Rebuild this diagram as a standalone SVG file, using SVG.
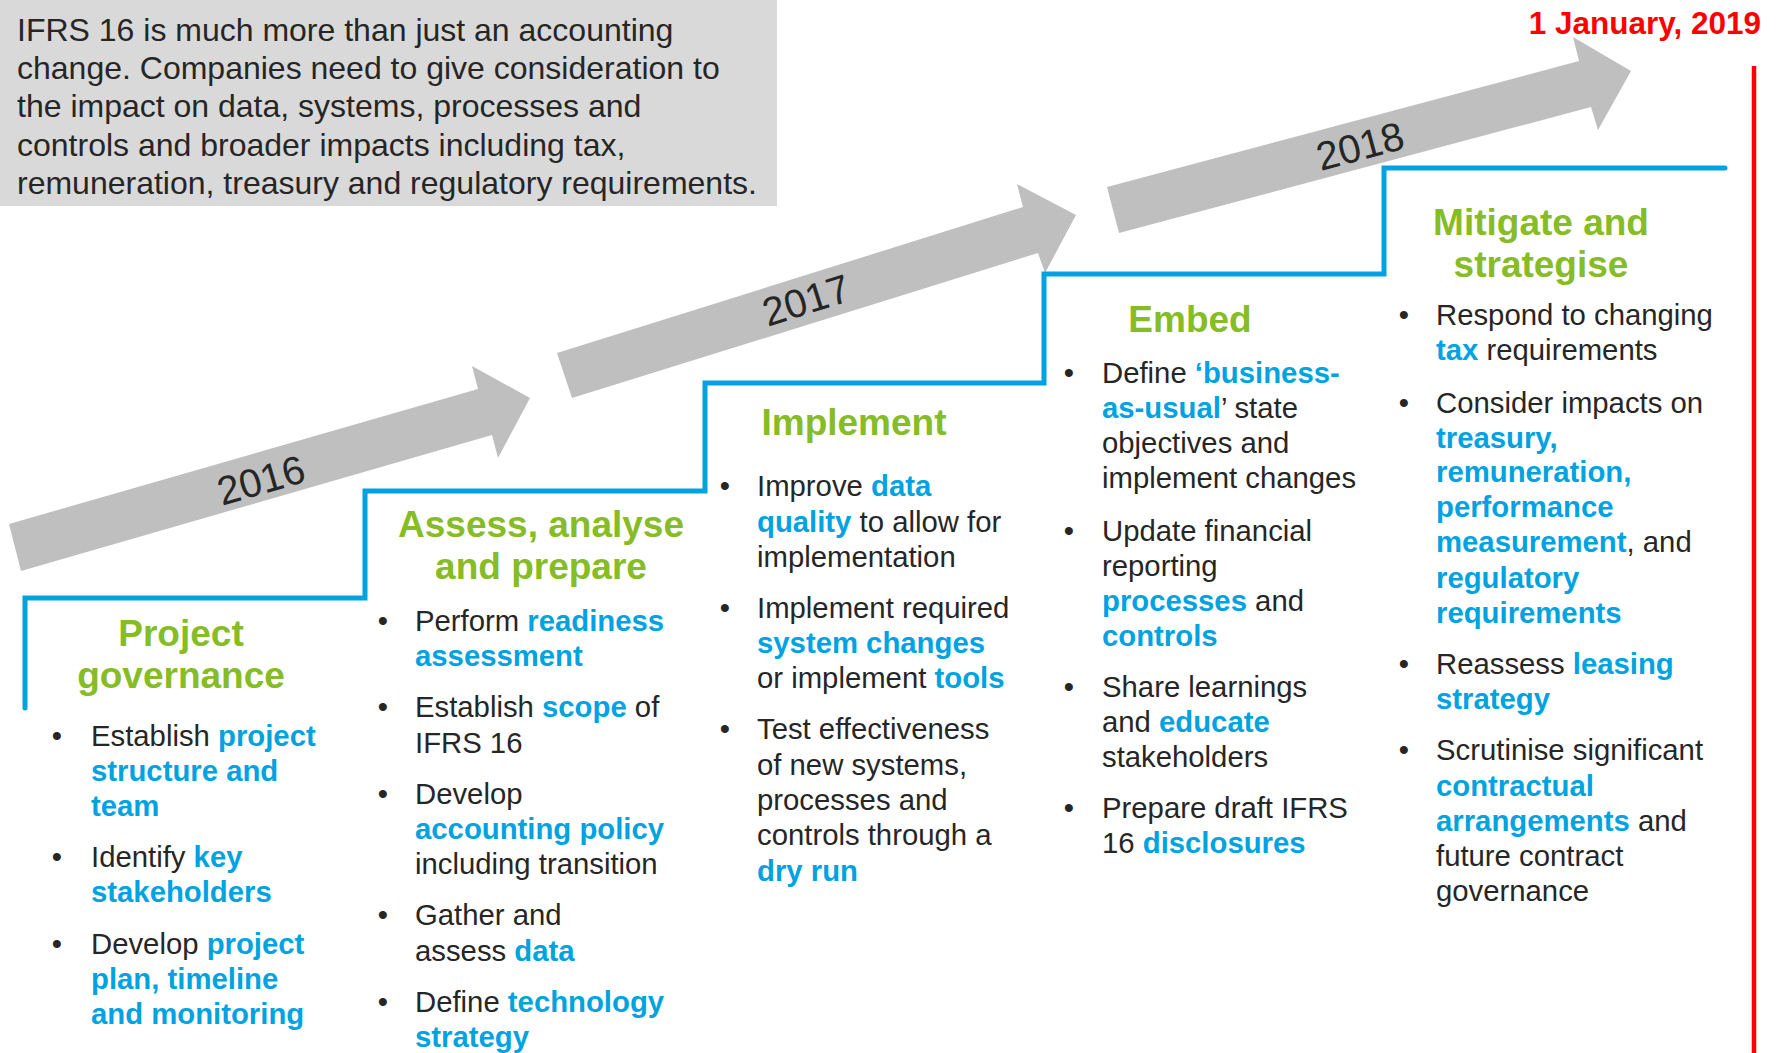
<svg xmlns="http://www.w3.org/2000/svg" width="1777" height="1053" viewBox="0 0 1777 1053">
  <style>
    text { font-family: "Liberation Sans", Arial, Helvetica, sans-serif; }
    .intro { font-size: 32px; fill: #262626; }
    .yr { font-size: 40px; fill: #262626; text-anchor: middle; }
    .hd { font-size: 37px; font-weight: bold; fill: #86bc25; text-anchor: middle; }
    .t { font-size: 29.3px; fill: #262626; }
    .bl { font-size: 29.3px; fill: #262626; text-anchor: middle; }
    .b { font-weight: bold; fill: #00a3e0; }
    .arrow { fill: #bfbfbf; }
    .step { fill: none; stroke: #00a3e0; stroke-width: 5; stroke-linejoin: miter; stroke-linecap: round; }
  </style>

  <rect width="1777" height="1053" fill="#ffffff"/>

  <!-- introduction panel -->
  <g id="intro">
    <rect x="0" y="0" width="777" height="206" fill="#d9d9d9"/>
    <text class="intro" x="17" y="41">IFRS 16 is much more than just an accounting</text>
    <text class="intro" x="17" y="79">change. Companies need to give consideration to</text>
    <text class="intro" x="17" y="117">the impact on data, systems, processes and</text>
    <text class="intro" x="17" y="156">controls and broader impacts including tax,</text>
    <text class="intro" x="17" y="194">remuneration, treasury and regulatory requirements.</text>
  </g>

  <!-- yearly progress arrows -->
  <g id="arrow-2016">
    <polygon class="arrow" points="9,524 478,389 472,366 530,398 498,458 492,435 21,571"/>
    <text class="yr" transform="translate(261,480) rotate(-16)" x="0" y="14">2016</text>
  </g>
  <g id="arrow-2017">
    <polygon class="arrow" points="557,353 1023,207 1017,184 1076,215 1045,273 1038,253 572,398"/>
    <text class="yr" transform="translate(806,300) rotate(-17.4)" x="0" y="14">2017</text>
  </g>
  <g id="arrow-2018">
    <polygon class="arrow" points="1107,187 1579,61 1573,37 1631,71 1598,130 1591,107 1119,233"/>
    <text class="yr" transform="translate(1360,146) rotate(-15)" x="0" y="14">2018</text>
  </g>

  <!-- staircase linking the phases -->
  <g id="connectors">
    <path class="step" d="M25,708 V598 H365 V491 H705 V383 H1044 V274 H1384 V168 H1725"/>
  </g>

  <!-- effective date -->
  <g id="deadline">
    <line x1="1754" y1="66" x2="1754" y2="1053" stroke="#ff0000" stroke-width="4.5"/>
    <text x="1761" y="34" font-size="31.5" font-weight="bold" fill="#ff0000" text-anchor="end">1 January, 2019</text>
  </g>

  <!-- phase 1 -->
  <g id="phase-governance">
    <text class="hd" x="181" y="646">Project</text>
    <text class="hd" x="181" y="688">governance</text>
    <text class="bl" x="57" y="746">•</text>
    <text class="t" x="91" y="746">Establish <tspan class="b">project</tspan></text>
    <text class="t" x="91" y="781"><tspan class="b">structure and</tspan></text>
    <text class="t" x="91" y="816"><tspan class="b">team</tspan></text>
    <text class="bl" x="57" y="867">•</text>
    <text class="t" x="91" y="867">Identify <tspan class="b">key</tspan></text>
    <text class="t" x="91" y="902"><tspan class="b">stakeholders</tspan></text>
    <text class="bl" x="57" y="954">•</text>
    <text class="t" x="91" y="954">Develop <tspan class="b">project</tspan></text>
    <text class="t" x="91" y="989"><tspan class="b">plan, timeline</tspan></text>
    <text class="t" x="91" y="1024"><tspan class="b">and monitoring</tspan></text>
  </g>

  <!-- phase 2 -->
  <g id="phase-assess">
    <text class="hd" x="541" y="537">Assess, analyse</text>
    <text class="hd" x="541" y="579">and prepare</text>
    <text class="bl" x="383" y="631">•</text>
    <text class="t" x="415" y="631">Perform <tspan class="b">readiness</tspan></text>
    <text class="t" x="415" y="666"><tspan class="b">assessment</tspan></text>
    <text class="bl" x="383" y="717">•</text>
    <text class="t" x="415" y="717">Establish <tspan class="b">scope</tspan> of</text>
    <text class="t" x="415" y="753">IFRS 16</text>
    <text class="bl" x="383" y="804">•</text>
    <text class="t" x="415" y="804">Develop</text>
    <text class="t" x="415" y="839"><tspan class="b">accounting policy</tspan></text>
    <text class="t" x="415" y="874">including transition</text>
    <text class="bl" x="383" y="925">•</text>
    <text class="t" x="415" y="925">Gather and</text>
    <text class="t" x="415" y="961">assess <tspan class="b">data</tspan></text>
    <text class="bl" x="383" y="1012">•</text>
    <text class="t" x="415" y="1012">Define <tspan class="b">technology</tspan></text>
    <text class="t" x="415" y="1047"><tspan class="b">strategy</tspan></text>
  </g>

  <!-- phase 3 -->
  <g id="phase-implement">
    <text class="hd" x="854" y="435">Implement</text>
    <text class="bl" x="725" y="496">•</text>
    <text class="t" x="757" y="496">Improve <tspan class="b">data</tspan></text>
    <text class="t" x="757" y="532"><tspan class="b">quality</tspan> to allow for</text>
    <text class="t" x="757" y="567">implementation</text>
    <text class="bl" x="725" y="618">•</text>
    <text class="t" x="757" y="618">Implement required</text>
    <text class="t" x="757" y="653"><tspan class="b">system changes</tspan></text>
    <text class="t" x="757" y="688">or implement <tspan class="b">tools</tspan></text>
    <text class="bl" x="725" y="739">•</text>
    <text class="t" x="757" y="739">Test effectiveness</text>
    <text class="t" x="757" y="775">of new systems,</text>
    <text class="t" x="757" y="810">processes and</text>
    <text class="t" x="757" y="845">controls through a</text>
    <text class="t" x="757" y="881"><tspan class="b">dry run</tspan></text>
  </g>

  <!-- phase 4 -->
  <g id="phase-embed">
    <text class="hd" x="1190" y="332">Embed</text>
    <text class="bl" x="1069" y="383">•</text>
    <text class="t" x="1102" y="383">Define <tspan class="b">‘business-</tspan></text>
    <text class="t" x="1102" y="418"><tspan class="b">as-usual</tspan>’ state</text>
    <text class="t" x="1102" y="453">objectives and</text>
    <text class="t" x="1102" y="488">implement changes</text>
    <text class="bl" x="1069" y="541">•</text>
    <text class="t" x="1102" y="541">Update financial</text>
    <text class="t" x="1102" y="576">reporting</text>
    <text class="t" x="1102" y="611"><tspan class="b">processes</tspan> and</text>
    <text class="t" x="1102" y="646"><tspan class="b">controls</tspan></text>
    <text class="bl" x="1069" y="697">•</text>
    <text class="t" x="1102" y="697">Share learnings</text>
    <text class="t" x="1102" y="732">and <tspan class="b">educate</tspan></text>
    <text class="t" x="1102" y="767">stakeholders</text>
    <text class="bl" x="1069" y="818">•</text>
    <text class="t" x="1102" y="818">Prepare draft IFRS</text>
    <text class="t" x="1102" y="853">16 <tspan class="b">disclosures</tspan></text>
  </g>

  <!-- phase 5 -->
  <g id="phase-mitigate">
    <text class="hd" x="1541" y="235">Mitigate and</text>
    <text class="hd" x="1541" y="277">strategise</text>
    <text class="bl" x="1404" y="325">•</text>
    <text class="t" x="1436" y="325">Respond to changing</text>
    <text class="t" x="1436" y="360"><tspan class="b">tax</tspan> requirements</text>
    <text class="bl" x="1404" y="413">•</text>
    <text class="t" x="1436" y="413">Consider impacts on</text>
    <text class="t" x="1436" y="448"><tspan class="b">treasury,</tspan></text>
    <text class="t" x="1436" y="482"><tspan class="b">remuneration,</tspan></text>
    <text class="t" x="1436" y="517"><tspan class="b">performance</tspan></text>
    <text class="t" x="1436" y="552"><tspan class="b">measurement</tspan>, and</text>
    <text class="t" x="1436" y="588"><tspan class="b">regulatory</tspan></text>
    <text class="t" x="1436" y="623"><tspan class="b">requirements</tspan></text>
    <text class="bl" x="1404" y="674">•</text>
    <text class="t" x="1436" y="674">Reassess <tspan class="b">leasing</tspan></text>
    <text class="t" x="1436" y="709"><tspan class="b">strategy</tspan></text>
    <text class="bl" x="1404" y="760">•</text>
    <text class="t" x="1436" y="760">Scrutinise significant</text>
    <text class="t" x="1436" y="796"><tspan class="b">contractual</tspan></text>
    <text class="t" x="1436" y="831"><tspan class="b">arrangements</tspan> and</text>
    <text class="t" x="1436" y="866">future contract</text>
    <text class="t" x="1436" y="901">governance</text>
  </g>
</svg>
